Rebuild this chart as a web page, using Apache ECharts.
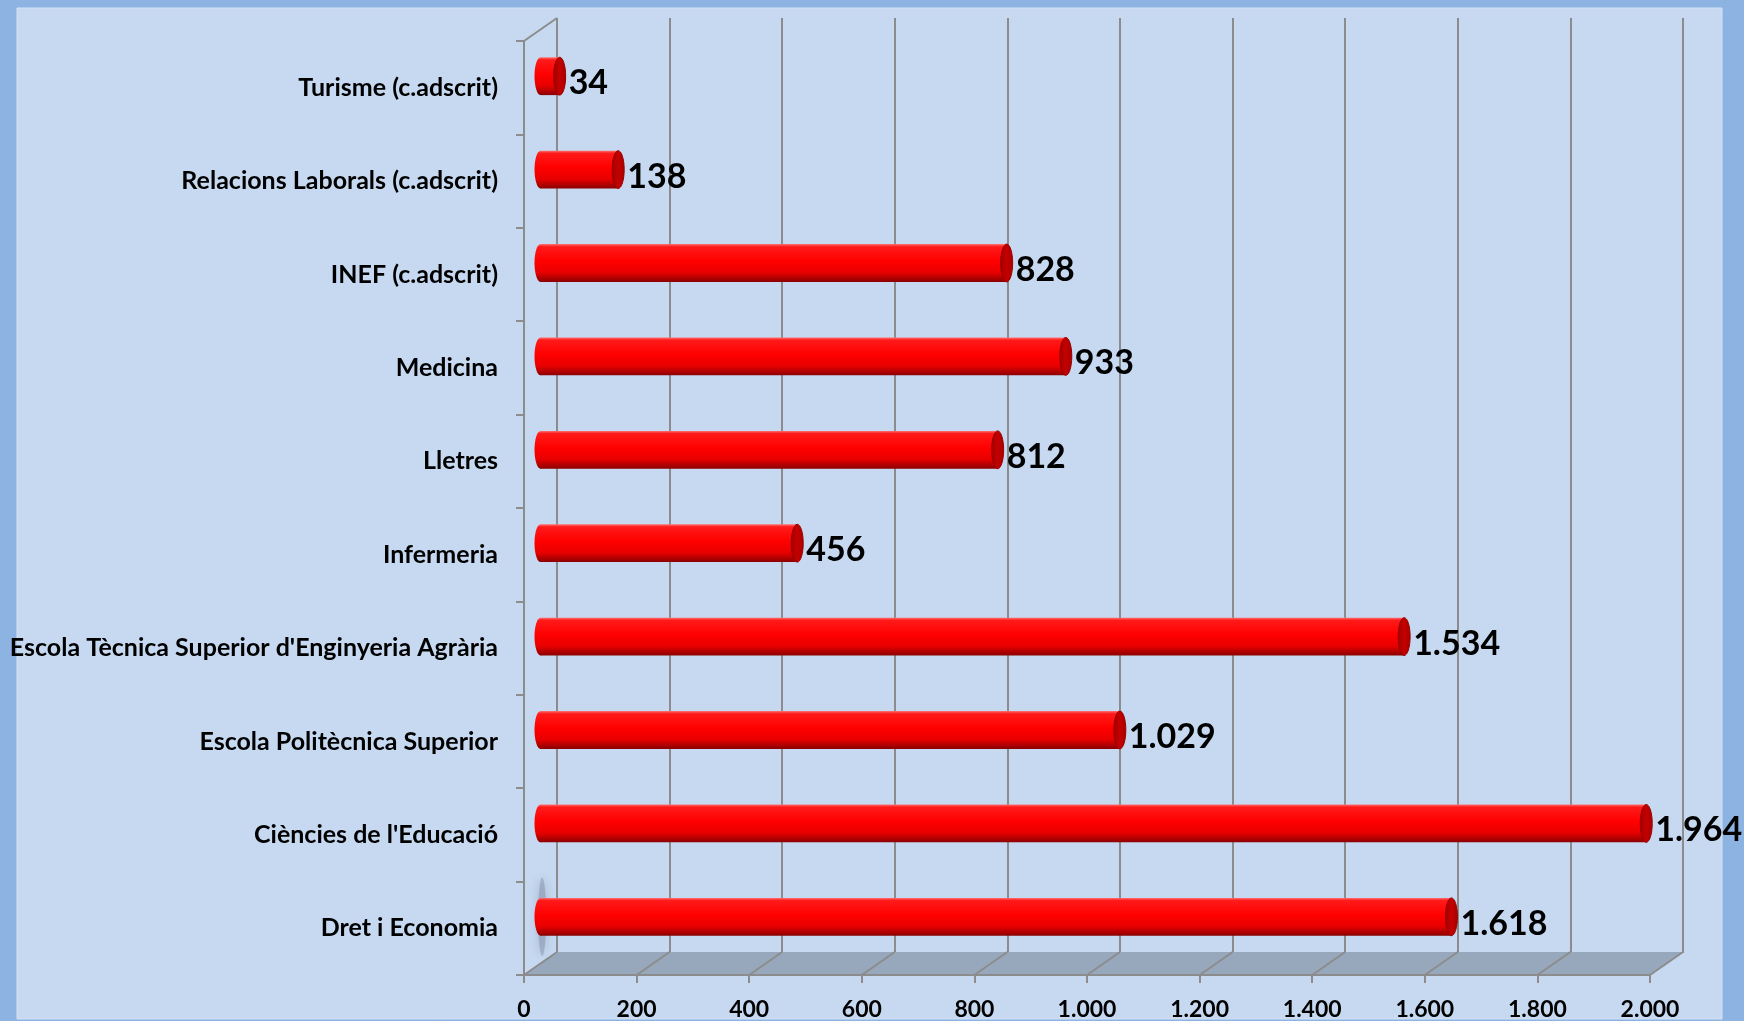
<!DOCTYPE html>
<html>
<head>
<meta charset="utf-8">
<script src="https://cdn.jsdelivr.net/npm/echarts@6/dist/echarts.min.js"></script>
<style>
  html, body { margin: 0; padding: 0; background: #8db3e2; }
  #chart { width: 1744px; height: 1021px; }
</style>
</head>
<body>
<div id="chart"></div>
<script>
// ---- data ----
const categories = [
  'Turisme (c.adscrit)',
  'Relacions Laborals (c.adscrit)',
  'INEF (c.adscrit)',
  'Medicina',
  'Lletres',
  'Infermeria',
  "Escola Tècnica Superior d'Enginyeria Agrària",
  'Escola Politècnica Superior',
  "Ciències de l'Educació",
  'Dret i Economia'
];
const values = [34, 138, 828, 933, 812, 456, 1534, 1029, 1964, 1618];
const axisMin = 0;
const axisMax = 2000;
const axisInterval = 200;

// ---- layout / style ----
const FRONT = { left: 524, right: 94, top: 41, bottom: 45 };
const DX = 33, DY = -23; // depth offset of the 3D back wall
const BACK = { left: FRONT.left + DX, right: FRONT.right - DX, top: FRONT.top + DY, bottom: FRONT.bottom - DY };
const GRID_COLOR = '#8c8c8c';
const FONT = 'Lato, "Open Sans", sans-serif';

function fmt(v) {
  return String(v).replace(/\B(?=(\d{3})+(?!\d))/g, '.');
}

const tickValues = [];
for (let t = axisMin; t <= axisMax; t += axisInterval) tickValues.push(t);

const chart = echarts.init(document.getElementById('chart'), null, { renderer: 'canvas' });

function renderFrame(params, api) {
  const cs = params.coordSys;
  const yb = cs.y + cs.height;
  const children = [];
  // floor
  children.push({
    type: 'polygon',
    shape: { points: [[cs.x, yb], [cs.x + cs.width, yb], [cs.x + cs.width + DX, yb + DY], [cs.x + DX, yb + DY]] },
    style: { fill: '#98a8bc' }
  });
  // floor diagonals at each tick
  tickValues.forEach(function (t) {
    const x = api.coord([t, 0])[0];
    children.push({
      type: 'line',
      shape: { x1: x, y1: yb, x2: x + DX, y2: yb + DY },
      style: { stroke: GRID_COLOR, lineWidth: 2 }
    });
  });
  // top-left diagonal of side wall
  children.push({
    type: 'line',
    shape: { x1: cs.x, y1: cs.y, x2: cs.x + DX, y2: cs.y + DY },
    style: { stroke: GRID_COLOR, lineWidth: 2 }
  });
  // faint blurred shadow near the last bar's base
  const last = categories.length - 1;
  const pc = api.coord([axisMin, last]);
  const band = api.size([0, 1])[1];
  children.push({
    type: 'ellipse',
    shape: { cx: pc[0] + DX * 0.55, cy: pc[1] + DY / 2, rx: 4, ry: band * 0.42 },
    style: { fill: 'rgba(110,120,140,0.35)', shadowBlur: 10, shadowColor: 'rgba(80,90,110,0.8)' }
  });
  return { type: 'group', children: children };
}

function renderBar(params, api) {
  const v = api.value(0);
  const cat = api.value(1);
  const p0 = api.coord([axisMin, cat]);
  const p1 = api.coord([v, cat]);
  const band = api.size([0, 1])[1];
  const h = band * 0.405;
  const ox = DX / 2, oy = DY / 2;
  const x0 = p0[0] + ox, x1 = p1[0] + ox, cy = p0[1] + oy;
  const rx = 6, ry = h / 2;
  const bodyFill = new echarts.graphic.LinearGradient(0, 0, 0, 1, [
    { offset: 0, color: '#ff7070' },
    { offset: 0.07, color: '#ff1a1a' },
    { offset: 0.45, color: '#ff0000' },
    { offset: 0.75, color: '#e80000' },
    { offset: 1, color: '#8a0000' }
  ]);
  const capFill = new echarts.graphic.LinearGradient(0, 0, 1, 0, [
    { offset: 0, color: '#a00000' },
    { offset: 0.5, color: '#c40000' },
    { offset: 1, color: '#a80000' }
  ]);
  return {
    type: 'group',
    children: [
      { type: 'ellipse', shape: { cx: x0, cy: cy, rx: rx, ry: ry }, style: { fill: bodyFill } },
      { type: 'rect', shape: { x: x0, y: cy - ry, width: Math.max(0, x1 - x0), height: h }, style: { fill: bodyFill } },
      { type: 'ellipse', shape: { cx: x1, cy: cy, rx: rx, ry: ry }, style: { fill: capFill, stroke: '#9a0000', lineWidth: 1 } },
      {
        type: 'text',
        x: x1 + rx + 3,
        y: cy + 7,
        style: {
          text: fmt(v),
          fill: '#000',
          font: 'bold 34px ' + FONT,
          verticalAlign: 'middle',
          align: 'left'
        }
      }
    ]
  };
}

const option = {
  backgroundColor: '#8db3e2',
  animation: false,
  graphic: [{
    type: 'rect',
    z: -10,
    shape: { x: 17, y: 8, width: 1705, height: 1011 },
    style: { fill: '#c6d9f1', stroke: '#d3e2f5', lineWidth: 1 }
  }],
  grid: [
    { left: FRONT.left, right: FRONT.right, top: FRONT.top, bottom: FRONT.bottom, containLabel: false },
    { left: BACK.left, right: BACK.right, top: BACK.top, bottom: BACK.bottom, containLabel: false }
  ],
  xAxis: [
    {
      gridIndex: 0, type: 'value', min: axisMin, max: axisMax, interval: axisInterval, z: 10,
      axisLine: { show: true, lineStyle: { color: GRID_COLOR, width: 2 } },
      axisTick: { show: true, length: 8, lineStyle: { color: GRID_COLOR, width: 2 } },
      splitLine: { show: false },
      axisLabel: { formatter: fmt, fontSize: 23, fontWeight: 'bold', fontFamily: FONT, color: '#000', margin: 23 }
    },
    {
      gridIndex: 1, type: 'value', min: axisMin, max: axisMax, interval: axisInterval,
      axisLine: { show: false }, axisTick: { show: false }, axisLabel: { show: false },
      splitLine: { show: true, showMinLine: true, showMaxLine: true, lineStyle: { color: GRID_COLOR, width: 2 } }
    }
  ],
  yAxis: [
    {
      gridIndex: 0, type: 'category', data: categories, inverse: true, z: 10,
      axisLine: { show: true, lineStyle: { color: GRID_COLOR, width: 2 } },
      axisTick: { show: true, length: 8, lineStyle: { color: GRID_COLOR, width: 2 } },
      axisLabel: { fontSize: 25, fontWeight: 'bold', fontFamily: FONT, color: '#000', margin: 26, padding: [5, 0, 0, 0] }
    },
    {
      gridIndex: 1, type: 'category', data: categories, inverse: true, show: false
    }
  ],
  series: [
    {
      type: 'custom', name: 'frame', xAxisIndex: 0, yAxisIndex: 0, z: 1,
      renderItem: renderFrame, data: [[0, 0]], silent: true
    },
    {
      type: 'custom', name: 'values', xAxisIndex: 0, yAxisIndex: 0, z: 5,
      renderItem: renderBar,
      data: values.map(function (v, i) { return [v, i]; })
    }
  ]
};
chart.setOption(option);
</script>
</body>
</html>
